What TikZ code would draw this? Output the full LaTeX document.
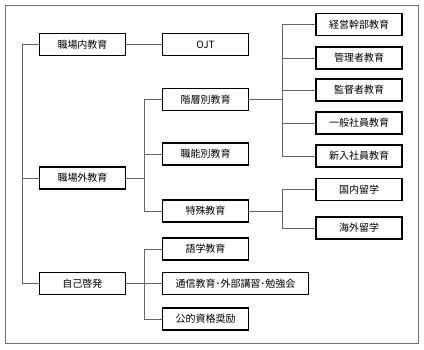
\documentclass[tikz,border=0pt]{standalone}
\usepackage{fontspec}
\setmainfont{Noto Sans CJK JP}
\tikzset{
  box/.style={draw=black, line width=1.1pt, minimum height=22pt, minimum width=86pt,
              inner sep=0pt, font=\fontsize{10}{12}\selectfont},
  widebox/.style={box, minimum width=146pt},
  link/.style={draw=black!60, line width=0.8pt},
}

\begin{document}
\begin{tikzpicture}[x=1pt,y=-1pt]

  \useasboundingbox (0,0) rectangle (424,349);
  \draw[draw=black!55, line width=0.8pt] (5,5) rectangle (418,343);

  % ---------- 第1列 ----------
  \node[box] (naibu)  at (82.5,44.5)  {職場内教育};
  \node[box] (gaibu)  at (82.5,178)   {職場外教育};
  \node[box] (jiko)   at (82.5,283.5) {自己啓発};

  % ---------- 第2列 ----------
  \node[box] (ojt)    at (205.5,44.5) {OJT};
  \node[box] (kaiso)  at (205.5,99.5) {階層別教育};
  \node[box] (shokuno) at (205.5,154) {職能別教育};
  \node[box] (tokushu) at (205.5,211) {特殊教育};
  \node[box] (gogaku) at (205.5,249)  {語学教育};
  \node[widebox] (tsushin) at (235.5,283.5) {通信教育･外部講習･勉強会};
  \node[box] (shikaku) at (205.5,319) {公的資格奨励};

  % ---------- 第3列 ----------
  \foreach \n/\y/\t in {keiei/24.5/経営幹部教育, kanri/58/管理者教育,
                        kantoku/90/監督者教育, ippan/123/一般社員教育,
                        shinnyu/156/新入社員教育}
    \node[box] (\n) at (359,\y) {\t};
  \node[box] (kokunai) at (359,189.5) {国内留学};
  \node[box] (kaigai)  at (359,228)   {海外留学};

  % ---------- 接続線 ----------
  \coordinate (root) at (22,44.5);
  \draw[link] (root) -- (naibu.west);
  \draw[link] (root) |- (gaibu.west);
  \draw[link] (root) |- (jiko.west);
  \draw[link] (naibu) -- (ojt);

  \coordinate (gj) at (144,178);
  \draw[link] (gaibu.east) -- (gj);
  \foreach \n in {kaiso, shokuno, tokushu}
    \draw[link] (gj) |- (\n.west);

  \coordinate (jj) at (144,283.5);
  \draw[link] (jiko.east) -- (tsushin.west);
  \foreach \n in {gogaku, shikaku}
    \draw[link] (jj) |- (\n.west);

  \coordinate (kj) at (282,99.5);
  \draw[link] (kaiso.east) -- (kj);
  \foreach \n in {keiei, kanri, kantoku, ippan, shinnyu}
    \draw[link] (kj) |- (\n.west);

  \coordinate (tj) at (282,211);
  \draw[link] (tokushu.east) -- (tj);
  \foreach \n in {kokunai, kaigai}
    \draw[link] (tj) |- (\n.west);

\end{tikzpicture}
\end{document}
